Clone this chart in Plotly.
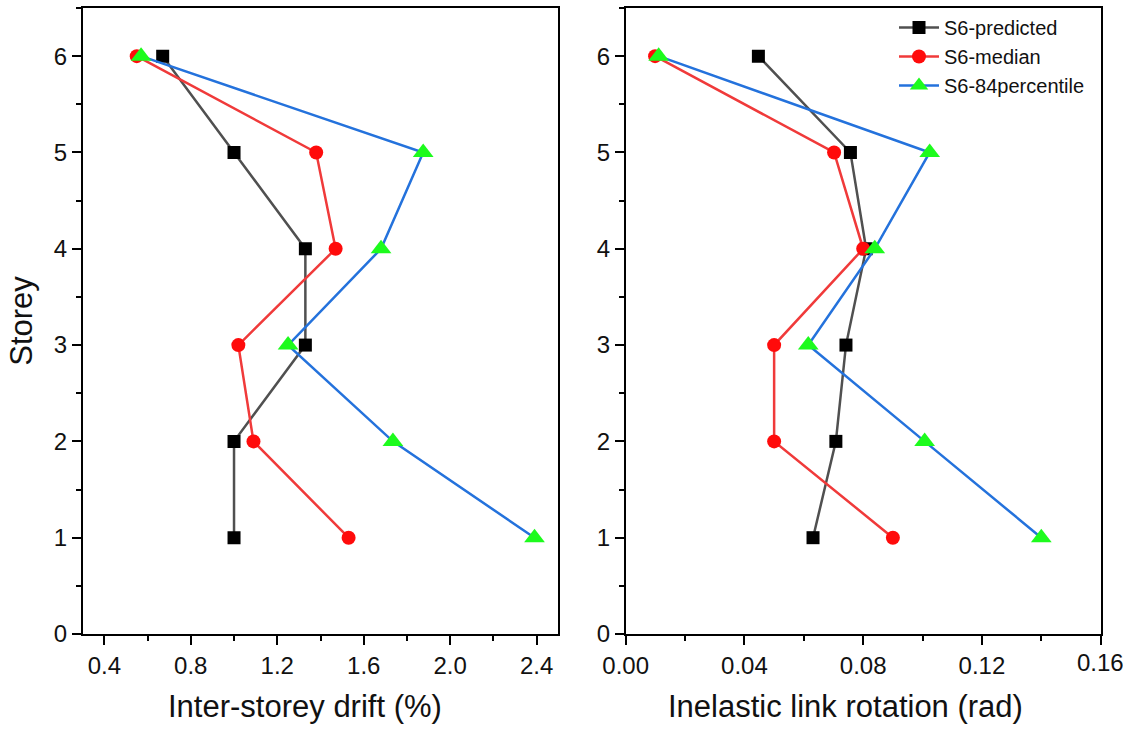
import plotly.graph_objects as go

storey = [6, 5, 4, 3, 2, 1]

drift_predicted = [0.67, 1.00, 1.33, 1.33, 1.00, 1.00]
drift_median = [0.55, 1.38, 1.47, 1.02, 1.09, 1.53]
drift_p84 = [0.57, 1.875, 1.68, 1.25, 1.735, 2.39]

rot_predicted = [0.0447, 0.0757, 0.081, 0.0742, 0.0708, 0.0631]
rot_median = [0.0099, 0.0702, 0.080, 0.050, 0.050, 0.090]
rot_p84 = [0.0111, 0.1024, 0.0839, 0.0615, 0.1007, 0.140]

names = ["S6-predicted", "S6-median", "S6-84percentile"]
line_colors = ["#505050", "#f03a3a", "#2472dc"]
marker_colors = ["#000000", "#ff0b0b", "#1dfb1d"]
symbols = ["square", "circle", "triangle-up"]
sizes = [13, 14, 18]

x_titles = ["Inter-storey drift (%)", "Inelastic link rotation (rad)"]
y_title = "Storey"

FONT = "Liberation Sans, Arial, sans-serif"

fig = go.Figure()

left_sets = [drift_predicted, drift_median, drift_p84]
right_sets = [rot_predicted, rot_median, rot_p84]

for i in range(3):
    fig.add_trace(go.Scatter(
        x=left_sets[i], y=storey, mode="lines+markers", name=names[i],
        line=dict(color=line_colors[i], width=2.5),
        marker=dict(symbol=symbols[i], size=sizes[i], color=marker_colors[i], line=dict(width=0)),
        xaxis="x", yaxis="y", showlegend=False,
    ))
for i in range(3):
    fig.add_trace(go.Scatter(
        x=right_sets[i], y=storey, mode="lines+markers", name=names[i],
        line=dict(color=line_colors[i], width=2.5),
        marker=dict(symbol=symbols[i], size=sizes[i], color=marker_colors[i], line=dict(width=0)),
        xaxis="x2", yaxis="y2", showlegend=True,
    ))

W, H = 1123, 731
common_axis = dict(
    showline=True, linecolor="black", linewidth=1.6, mirror=True,
    ticks="outside", ticklen=9, tickwidth=1.6, tickcolor="black",
    showgrid=False, zeroline=False, automargin=False,
    tickfont=dict(family=FONT, size=24, color="#111111"),
)
minor_common = dict(ticks="outside", ticklen=5, tickwidth=1.6, tickcolor="black")
title_font = dict(family=FONT, size=31, color="#111111")

fig.update_layout(
    width=W, height=H,
    margin=dict(l=0, r=0, t=8, b=97),
    paper_bgcolor="white", plot_bgcolor="white",
    font=dict(family=FONT, color="#111111"),
    xaxis=dict(
        domain=[82.7 / W, 558.3 / W], range=[0.3, 2.5],
        tick0=0.4, dtick=0.4, tickformat=".1f",
        minor=dict(dtick=0.2, tick0=0.4, **minor_common),
        anchor="y", **common_axis,
    ),
    yaxis=dict(
        domain=[0, 1], range=[0, 6.5], tick0=0, dtick=1,
        minor=dict(dtick=0.5, tick0=0, **minor_common),
        title=dict(text=y_title, font=title_font, standoff=12),
        anchor="x", **common_axis,
    ),
    xaxis2=dict(
        domain=[625.7 / W, 1100.7 / W], range=[0, 0.16001],
        tick0=0, dtick=0.04, tickformat=".2f",
        minor=dict(dtick=0.02, tick0=0, **minor_common),
        anchor="y2", **common_axis,
    ),
    yaxis2=dict(
        domain=[0, 1], range=[0, 6.5], tick0=0, dtick=1,
        minor=dict(dtick=0.5, tick0=0, **minor_common),
        anchor="x2", **common_axis,
    ),
    legend=dict(
        x=894 / W, y=1.0, xanchor="left", yanchor="top",
        bgcolor="rgba(0,0,0,0)", borderwidth=0,
        font=dict(family=FONT, size=20, color="#111111"),
        itemwidth=40, tracegroupgap=0,
    ),
)

# x-axis titles (placed as in the reference, slightly left of the panel centres)
fig.add_annotation(text=x_titles[0], xref="paper", yref="paper", x=305 / W, y=-73 / 626,
                   xanchor="center", yanchor="middle", showarrow=False, font=title_font)
fig.add_annotation(text=x_titles[1], xref="paper", yref="paper", x=845 / W, y=-73 / 626,
                   xanchor="center", yanchor="middle", showarrow=False, font=title_font)
# last tick label of the right panel, clipped at the page edge as in the reference
fig.add_annotation(text="0.16", xref="x2", yref="paper", x=0.16, y=-28 / 626,
                   xanchor="center", yanchor="middle", showarrow=False,
                   font=dict(family=FONT, size=24, color="#111111"))

fig.write_html("out.html")
